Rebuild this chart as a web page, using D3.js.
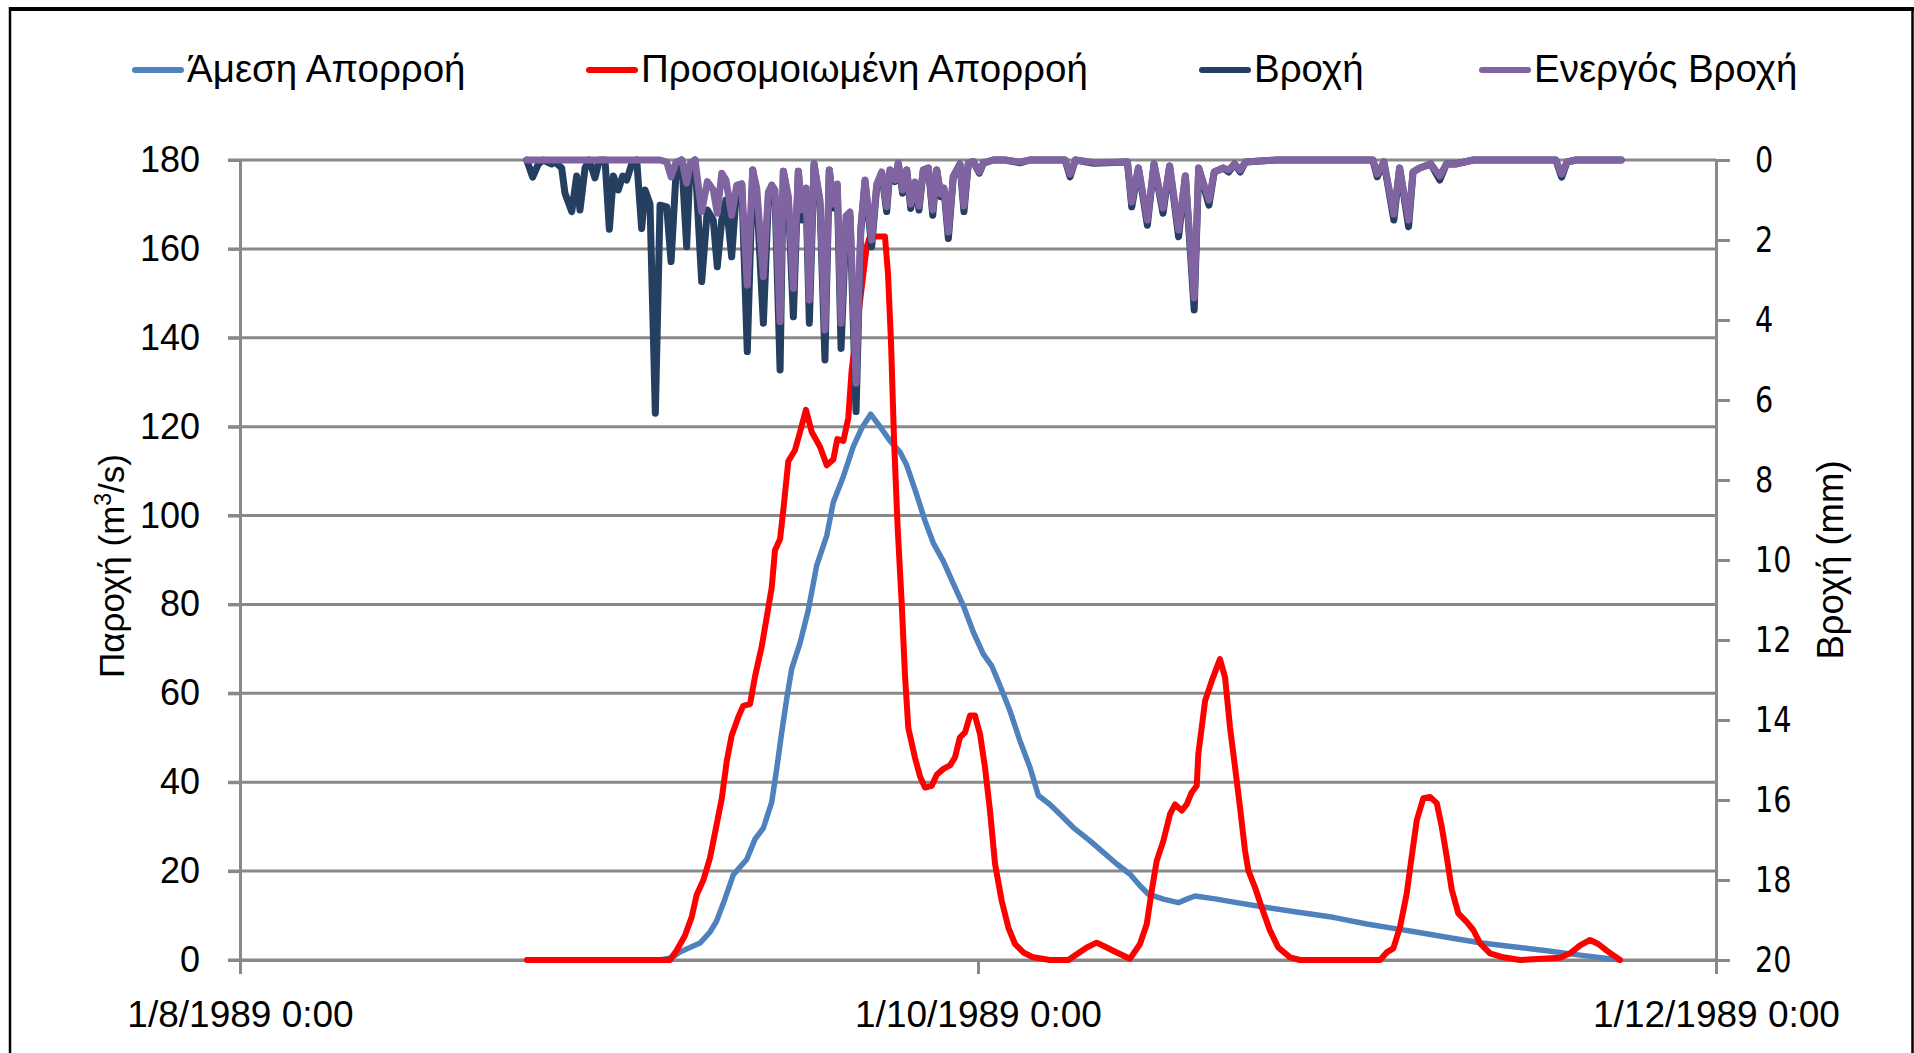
<!DOCTYPE html>
<html>
<head>
<meta charset="utf-8">
<script src="https://cdn.jsdelivr.net/npm/d3@7"></script>
<style>
  body { margin: 0; background: #fff; }
  svg { display: block; }
</style>
</head>
<body>
<svg id="chart" width="1914" height="1053"></svg>
<script>
// ---- Data: time is in days after 1/8/1989 0:00 ----

// Direct runoff (m3/s)
const directDays = [
  23.72, 34.72, 35.68, 36.37, 38.02, 38.85, 39.40, 40.09, 40.78, 41.88,
  42.57, 43.26, 43.95, 44.36, 44.78, 45.19, 45.60, 46.29, 46.98, 47.67,
  48.50, 49.04, 49.87, 50.69, 51.39, 52.13, 52.90, 53.73, 54.55, 55.11,
  55.93, 56.62, 57.31, 58.14, 58.96, 59.79, 60.61, 61.44, 62.13, 62.82,
  63.65, 64.47, 65.30, 65.99, 66.95, 67.78, 68.88, 70.26, 71.36, 72.47,
  73.57, 74.39, 75.08, 76.32, 77.56, 78.25, 78.94, 80.73, 82.38, 84.86,
  87.62, 90.37, 93.13, 95.61, 96.97, 99.74, 102.50, 105.23, 108.01, 110.76,
  113.52, 114.07
];
const directQ = [
  0, 0, 0.5, 1.8, 3.8, 6.3, 8.8, 13.8, 19.2, 22.6,
  27.2, 29.7, 35.5, 43, 51.3, 58.8, 65.5, 71.3, 78.8, 88.8,
  95.5, 103, 108.8, 115.5, 119.7, 122.8, 120, 116.8, 114.3, 111.3,
  104.7, 98.8, 93.8, 89.7, 84.7, 79.7, 73.8, 68.8, 66.2, 61.7,
  56, 49.3, 43.3, 37, 35, 32.8, 29.8, 26.8, 24.2, 21.6,
  19.3, 16.7, 14.8, 13.7, 12.9, 13.7, 14.4, 13.7, 12.9, 11.8,
  10.7, 9.6, 8.1, 7, 6.4, 5.1, 3.9, 3.0, 2.1, 1.1,
  0.2, 0
];

// Simulated runoff (m3/s)
const simDays = [
  23.72, 35.54, 36.10, 36.78, 37.34, 37.75, 38.30, 38.85, 39.40, 39.82,
  40.23, 40.64, 41.19, 41.60, 42.16, 42.57, 43.12, 43.54, 43.95, 44.22,
  44.64, 44.91, 45.32, 45.87, 46.29, 46.78, 47.26, 47.94, 48.50, 49.04,
  49.37, 49.87, 50.28, 50.56, 51.80, 52.07, 53.31, 53.56, 53.81, 54.06,
  54.36, 54.69, 54.97, 55.24, 55.79, 56.21, 56.62, 57.18, 57.59, 58.14,
  58.69, 59.10, 59.51, 59.93, 60.34, 60.75, 61.17, 61.58, 61.99, 62.41,
  62.96, 63.51, 64.06, 64.75, 65.57, 66.95, 68.47, 69.16, 69.99, 70.81,
  71.64, 72.47, 73.57, 74.39, 74.95, 75.36, 75.77, 76.32, 76.87, 77.29,
  77.84, 78.25, 78.66, 79.08, 79.21, 79.49, 79.77, 80.32, 81.00, 81.42,
  81.83, 82.25, 82.66, 83.07, 83.35, 83.90, 84.45, 85.14, 85.82, 86.79,
  87.62, 94.23, 94.78, 95.33, 95.89, 96.44, 96.85, 97.27, 97.81, 98.36,
  98.92, 99.33, 99.74, 100.16, 100.70, 101.39, 101.94, 102.50, 103.32, 104.42,
  105.80, 109.11, 109.94, 110.76, 111.59, 112.27, 112.97, 114.07
];
const simQ = [
  0, 0, 2.2, 5.5, 9.7, 14.7, 18, 23, 30.5, 36.3,
  44.7, 50.5, 54.7, 57.2, 57.6, 63.8, 70.5, 77.2, 83.8, 92.2,
  94.7, 101.3, 112.2, 114.7, 118.8, 123.8, 118.8, 115.5, 111.3, 112.6,
  117.2, 116.8, 122, 132.8, 160.5, 162.8, 162.8, 154.5, 139, 117,
  97.2, 80.5, 63.8, 52.2, 45.5, 41.3, 38.8, 39.2, 41.7, 43,
  43.8, 45.6, 50.1, 51.2, 55, 55, 50.8, 43.3, 33.6, 21.6,
  13.3, 7.3, 3.6, 1.7, 0.6, 0, 0, 1.3, 2.8, 3.9,
  2.8, 1.7, 0.3, 3.6, 8.1, 15.6, 22.3, 26.8, 32.8, 35,
  33.6, 35, 37.7, 39.2, 46.3, 52.3, 58.3, 62.8, 67.7, 63.6,
  52.3, 43.3, 34.3, 24.6, 20.1, 16.3, 11.8, 6.6, 2.8, 0.6,
  0, 0, 1.7, 2.6, 7.5, 15, 23.3, 31.5, 36.4, 36.7,
  35.3, 30, 23.3, 15.8, 10.5, 8.6, 6.75, 3.75, 1.5, 0.6,
  0, 0.5, 1.5, 3.3, 4.5, 3.6, 2.1, 0
];

// Rainfall and effective rainfall (mm)
const rainDays = [
  23.70, 24.19, 24.66, 25.07, 25.76, 26.04, 26.59, 26.86, 27.42, 27.83,
  28.10, 28.52, 28.87, 29.34, 29.70, 30.17, 30.53, 30.86, 31.27, 31.63,
  31.96, 32.38, 32.79, 33.20, 33.48, 33.89, 34.33, 34.72, 35.27, 35.63,
  36.04, 36.51, 36.92, 37.20, 37.61, 38.16, 38.63, 39.12, 39.45, 39.82,
  40.17, 40.64, 41.06, 41.47, 41.93, 42.38, 42.71, 43.26, 43.67, 43.95,
  44.22, 44.64, 44.91, 45.32, 45.74, 46.15, 46.43, 46.78, 47.06, 47.45,
  47.94, 48.35, 48.71, 49.04, 49.37, 49.68, 50.09, 50.42, 50.92, 51.31,
  51.66, 52.21, 52.63, 53.04, 53.45, 53.73, 54.14, 54.41, 54.77, 55.11,
  55.44, 55.79, 56.12, 56.48, 56.90, 57.26, 57.59, 57.92, 58.19, 58.55,
  58.96, 59.51, 59.84, 60.20, 60.61, 61.11, 61.44, 62.27, 63.23, 64.47,
  65.30, 68.20, 68.61, 69.05, 70.57, 73.35, 73.71, 74.26, 75.00, 75.55,
  76.29, 76.84, 77.58, 78.14, 78.87, 79.24, 80.09, 80.53, 81.27, 81.72,
  82.20, 82.68, 83.11, 85.70, 93.64, 94.00, 94.55, 95.37, 95.85, 96.59,
  96.96, 97.51, 98.43, 99.17, 99.72, 100.46, 101.20, 101.94, 108.76, 109.24,
  109.69, 110.42, 114.16
];
const rainMm = [
  0, 0.43, 0.1, 0, 0.1, 0.05, 0.2, 0.83, 1.29, 0.4,
  1.25, 0.2, 0, 0.45, 0, 0, 1.73, 0.4, 0.75, 0.4,
  0.5, 0.1, 0, 1.71, 0.75, 1.1, 6.33, 1.13, 1.17, 2.54,
  0.33, 0, 2.17, 0.1, 0, 3.04, 1.25, 1.5, 2.67, 1.5,
  1.0, 2.42, 0.67, 0.6, 4.79, 0.25, 0.9, 4.08, 1.0, 0.63,
  0.9, 5.25, 0.28, 1.0, 3.92, 0.28, 1.5, 0.8, 4.08, 0.1,
  1.1, 5.0, 0.25, 1.2, 0.67, 4.71, 1.58, 1.4, 6.29, 1.8,
  0.54, 2.17, 0.67, 0.33, 1.29, 0.25, 0.54, 0.08, 0.83, 0.25,
  1.21, 0.58, 1.25, 0.25, 0.2, 1.38, 0.25, 0.92, 0.75, 1.96,
  0.42, 0.1, 1.29, 0.08, 0.04, 0.33, 0.08, 0, 0, 0.07,
  0, 0, 0.42, 0, 0.08, 0.05, 1.17, 0.2, 1.63, 0.1,
  1.33, 0.15, 1.92, 0.4, 3.75, 0.2, 1.13, 0.3, 0.2, 0.3,
  0.1, 0.3, 0.05, 0, 0, 0.42, 0.05, 1.5, 0.2, 1.67,
  0.3, 0.2, 0.1, 0.5, 0.1, 0.1, 0.05, 0, 0, 0.43,
  0.05, 0, 0
];
const effectiveMm = [
  0, 0, 0, 0, 0, 0, 0, 0, 0, 0,
  0, 0, 0, 0, 0, 0, 0, 0, 0, 0,
  0, 0, 0, 0, 0, 0, 0, 0, 0.05, 0.42,
  0.05, 0, 0.58, 0.1, 0, 1.29, 0.54, 0.75, 1.33, 0.33,
  0.5, 1.38, 0.63, 0.6, 3.13, 0.25, 0.7, 2.92, 0.8, 0.63,
  0.75, 4.04, 0.28, 0.9, 3.21, 0.28, 1.25, 0.7, 3.5, 0.1,
  1.0, 4.25, 0.25, 1.1, 0.6, 4.08, 1.4, 1.3, 5.58, 1.7,
  0.5, 2.0, 0.6, 0.3, 1.17, 0.25, 0.5, 0.08, 0.75, 0.25,
  1.1, 0.55, 1.15, 0.25, 0.2, 1.25, 0.25, 0.85, 0.7, 1.8,
  0.4, 0.1, 1.15, 0.08, 0.04, 0.3, 0.08, 0, 0, 0.05,
  0, 0, 0.35, 0, 0.06, 0.05, 1.05, 0.2, 1.5, 0.1,
  1.2, 0.15, 1.75, 0.4, 3.45, 0.2, 1.0, 0.3, 0.2, 0.25,
  0.1, 0.25, 0.05, 0, 0, 0.35, 0.05, 1.35, 0.2, 1.5,
  0.3, 0.2, 0.1, 0.4, 0.1, 0.1, 0.05, 0, 0, 0.35,
  0.05, 0, 0
];

// Axes
const flowTicks = [0, 20, 40, 60, 80, 100, 120, 140, 160, 180];
const rainTicks = [0, 2, 4, 6, 8, 10, 12, 14, 16, 18, 20];
const dateTicks = [Date.UTC(1989, 7, 1), Date.UTC(1989, 9, 1), Date.UTC(1989, 11, 1)];

const seriesNames = ["Άμεση Απορροή", "Προσομοιωμένη Απορροή", "Βροχή", "Ενεργός Βροχή"];
const seriesColors = ["#4F81BD", "#FF0000", "#243F60", "#8064A2"];

// ---- Layout ----
const svg = d3.select("#chart");
const plot = { left: 240, right: 1716, top: 160, bottom: 960 };
const gridColor = "#898989";
const font = "'Liberation Sans', Arial, sans-serif";
const start = Date.UTC(1989, 7, 1);
const toDate = d => new Date(start + d * 86400000);

const x = d3.scaleUtc()
  .domain([new Date(dateTicks[0]), new Date(dateTicks[2])])
  .range([plot.left, plot.right]);
const yQ = d3.scaleLinear().domain([0, 180]).range([plot.bottom, plot.top]);
const yR = d3.scaleLinear().domain([0, 20]).range([plot.top, plot.bottom]);

// Frame
svg.append("line").attr("x1", 10).attr("x2", 1914).attr("y1", 9).attr("y2", 9)
  .attr("stroke", "#000").attr("stroke-width", 4);
svg.append("line").attr("x1", 10).attr("x2", 10).attr("y1", 7).attr("y2", 1053)
  .attr("stroke", "#000").attr("stroke-width", 2.5);
svg.append("line").attr("x1", 1912.5).attr("x2", 1912.5).attr("y1", 7).attr("y2", 1053)
  .attr("stroke", "#000").attr("stroke-width", 2.5);

// Horizontal gridlines
svg.append("g").selectAll("line").data(flowTicks).join("line")
  .attr("x1", plot.left - 12).attr("x2", plot.right)
  .attr("y1", d => yQ(d)).attr("y2", d => yQ(d))
  .attr("stroke", gridColor).attr("stroke-width", 3);

// Left axis
const leftAxis = svg.append("g").attr("transform", `translate(${plot.left},0)`)
  .call(d3.axisLeft(yQ).tickValues(flowTicks).tickSize(12).tickSizeOuter(0).tickPadding(28));
leftAxis.selectAll("line, path").attr("stroke", gridColor).attr("stroke-width", 3);
leftAxis.selectAll("text").attr("font-family", font).attr("font-size", 36).attr("fill", "#000");

// Right axis
const rightAxis = svg.append("g").attr("transform", `translate(${plot.right},0)`)
  .call(d3.axisRight(yR).tickValues(rainTicks).tickSize(14).tickSizeOuter(0).tickPadding(25));
rightAxis.selectAll("line, path").attr("stroke", gridColor).attr("stroke-width", 3);
rightAxis.selectAll("text")
  .attr("font-family", "'DejaVu Sans', Verdana, sans-serif").attr("font-size", 35)
  .attr("fill", "#000").attr("x", 0)
  .attr("transform", "translate(39,0) scale(0.82,1)");

// Bottom axis
const bottomAxis = svg.append("g").attr("transform", `translate(0,${plot.bottom})`)
  .call(d3.axisBottom(x).tickValues(dateTicks.map(t => new Date(t))).tickSize(14)
    .tickSizeOuter(0).tickPadding(27)
    .tickFormat(d => `${d.getUTCDate()}/${d.getUTCMonth() + 1}/${d.getUTCFullYear()} 0:00`));
bottomAxis.selectAll("line, path").attr("stroke", gridColor).attr("stroke-width", 3);
bottomAxis.selectAll("text").attr("font-family", font).attr("font-size", 37).attr("fill", "#000");

// Axis titles
const leftTitle = svg.append("text")
  .attr("transform", "translate(124,566) rotate(-90)")
  .attr("text-anchor", "middle").attr("font-family", font).attr("font-size", 35).attr("fill", "#000");
leftTitle.append("tspan").text("Παροχή (m");
leftTitle.append("tspan").attr("dy", -13).attr("font-size", 23).text("3");
leftTitle.append("tspan").attr("dy", 13).text("/s)");

svg.append("text")
  .attr("transform", "translate(1843,560) rotate(-90)")
  .attr("text-anchor", "middle").attr("font-family", font).attr("font-size", 36.5).attr("fill", "#000")
  .text("Βροχή (mm)");

// Series
const lineQ = d3.line().x(d => x(toDate(d[0]))).y(d => yQ(d[1]));
const lineR = d3.line().x(d => x(toDate(d[0]))).y(d => yR(d[1]));

const series = [
  { pts: d3.zip(directDays, directQ), gen: lineQ, color: seriesColors[0], w: 5.5 },
  { pts: d3.zip(simDays, simQ), gen: lineQ, color: seriesColors[1], w: 6 },
  { pts: d3.zip(rainDays, rainMm), gen: lineR, color: seriesColors[2], w: 7 },
  { pts: d3.zip(rainDays, effectiveMm), gen: lineR, color: seriesColors[3], w: 7 }
];
svg.append("g").selectAll("path").data(series).join("path")
  .attr("d", s => s.gen(s.pts))
  .attr("fill", "none")
  .attr("stroke", s => s.color)
  .attr("stroke-width", s => s.w)
  .attr("stroke-linejoin", "round")
  .attr("stroke-linecap", "round");

// Legend: one swatch and label per series
const legendX = [132, 586, 1199, 1479];
const legend = svg.append("g");
seriesNames.forEach((name, i) => {
  legend.append("line")
    .attr("x1", legendX[i] + 3).attr("x2", legendX[i] + 49).attr("y1", 70).attr("y2", 70)
    .attr("stroke", seriesColors[i]).attr("stroke-width", 6).attr("stroke-linecap", "round");
  legend.append("text")
    .attr("x", legendX[i] + 55).attr("y", 82)
    .attr("font-family", font).attr("font-size", 38.5).attr("fill", "#000")
    .text(name);
});
</script>
</body>
</html>
